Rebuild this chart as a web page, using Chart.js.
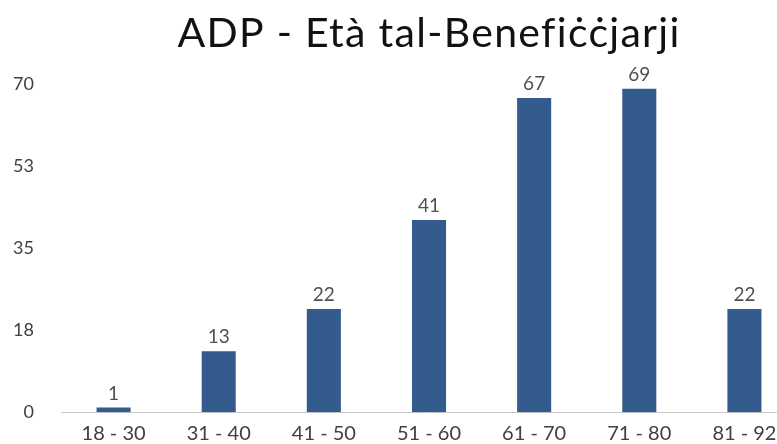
<!DOCTYPE html>
<html>
<head>
<meta charset="utf-8">
<script src="https://cdn.jsdelivr.net/npm/chart.js@4/dist/chart.umd.min.js"></script>
<style>
  html, body { margin: 0; padding: 0; background: #fff; overflow: hidden; }
  #wrap { width: 797px; height: 450px; }
</style>
</head>
<body>
<div id="wrap"><canvas id="c"></canvas></div>
<script>
const categories = ['18 - 30', '31 - 40', '41 - 50', '51 - 60', '61 - 70', '71 - 80', '81 - 92'];
const beneficiaries = [1, 13, 22, 41, 67, 69, 22];
const yTicks = [0, 17.5, 35, 52.5, 70];
const chartTitle = 'ADP - Età tal-Benefiċċjarji';

const FONT = 'Lato, "DejaVu Sans", sans-serif';

// Title centred over the plotting area
const plotTitle = {
  id: 'plotTitle',
  afterDraw(chart) {
    const ctx = chart.ctx;
    const a = chart.chartArea;
    ctx.save();
    ctx.font = '41px ' + FONT;
    if ('letterSpacing' in ctx) ctx.letterSpacing = '1.3px';
    ctx.fillStyle = '#111';
    ctx.textAlign = 'center';
    ctx.textBaseline = 'alphabetic';
    ctx.fillText(chartTitle, (a.left + a.right) / 2, 47);
    ctx.restore();
  }
};

// Writes each bar's value just above it
const valueLabels = {
  id: 'valueLabels',
  afterDatasetsDraw(chart) {
    const ctx = chart.ctx;
    const meta = chart.getDatasetMeta(0);
    ctx.save();
    ctx.font = '19px ' + FONT;
    ctx.fillStyle = '#505050';
    ctx.textAlign = 'center';
    ctx.textBaseline = 'alphabetic';
    meta.data.forEach((bar, i) => {
      ctx.fillText(String(chart.data.datasets[0].data[i]), bar.x, bar.y - 8);
    });
    ctx.restore();
  }
};

new Chart(document.getElementById('c'), {
  type: 'bar',
  data: {
    labels: categories,
    datasets: [{
      data: beneficiaries,
      backgroundColor: '#335b8e',
      barPercentage: 0.324,
      categoryPercentage: 1.0
    }]
  },
  options: {
    responsive: true,
    maintainAspectRatio: false,
    animation: false,
    layout: { padding: { left: 0, right: 0, top: 84, bottom: 0 } },
    plugins: {
      legend: { display: false },
      tooltip: { enabled: false },
      title: { display: false }
    },
    scales: {
      x: {
        grid: { display: false, drawTicks: false },
        border: { display: true, color: '#c8c8c8', width: 1 },
        afterFit(axis) { axis.height = 34; },
        ticks: {
          color: '#404040',
          font: { family: FONT, size: 20 },
          padding: 9,
          maxRotation: 0
        }
      },
      y: {
        min: 0,
        max: 70,
        afterBuildTicks(axis) {
          axis.ticks = yTicks.map(v => ({ value: v }));
        },
        afterFit(axis) { axis.width = 61; },
        grid: { display: false, drawTicks: false },
        border: { display: false },
        ticks: {
          color: '#404040',
          font: { family: FONT, size: 18 },
          padding: 27,
          callback: v => String(Math.round(v))
        }
      }
    }
  },
  plugins: [valueLabels, plotTitle]
});
</script>
</body>
</html>
